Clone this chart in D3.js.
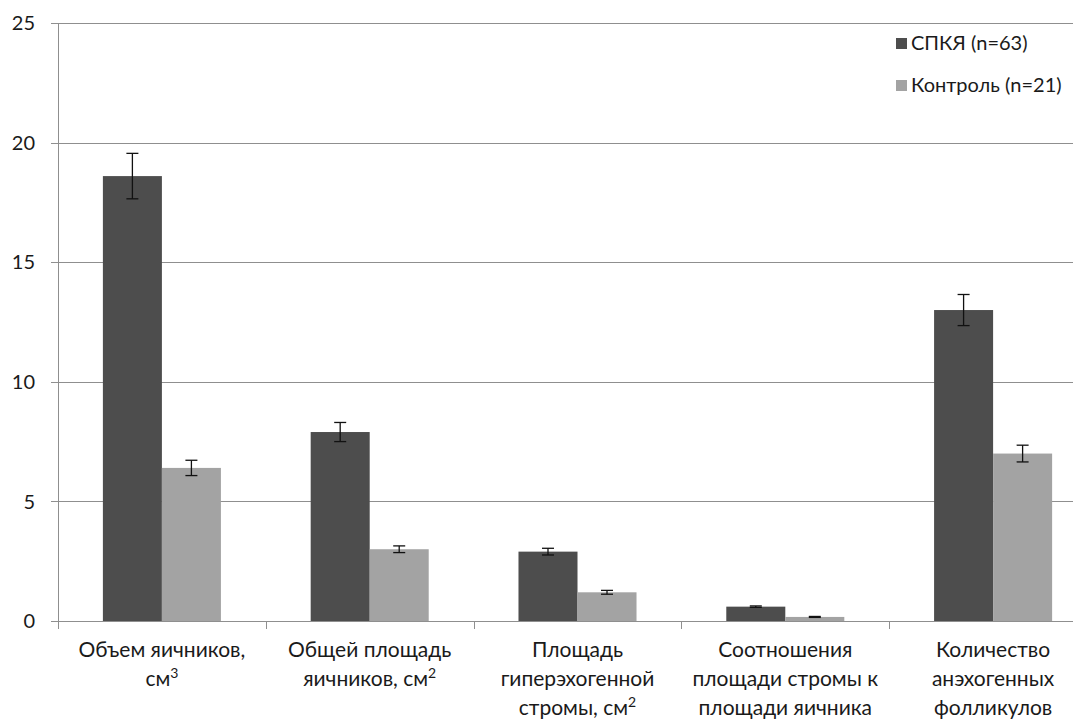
<!DOCTYPE html>
<html>
<head>
<meta charset="utf-8">
<script src="https://cdn.jsdelivr.net/npm/d3@7"></script>
<style>
  html, body { margin: 0; padding: 0; background: #fff; }
  svg { display: block; }
  text { font-family: Lato, "Open Sans", sans-serif; fill: #1a1a1a; }
</style>
</head>
<body>
<svg id="chart" width="1073" height="720"></svg>
<script>
// Ovarian ultrasound parameters: PCOS group vs control group (mean ± error)
const categories = [
  ["Объем яичников,", "см³"],
  ["Общей площадь", "яичников, см²"],
  ["Площадь", "гиперэхогенной", "стромы, см²"],
  ["Соотношения", "площади стромы к", "площади яичника"],
  ["Количество", "анэхогенных", "фолликулов"]
];
const seriesNames = ["СПКЯ (n=63)", "Контроль (n=21)"];
const pcosValues = [18.6, 7.9, 2.9, 0.6, 13.0];
const pcosErrors = [0.95, 0.4, 0.14, 0.03, 0.65];
const controlValues = [6.4, 3.0, 1.2, 0.17, 7.0];
const controlErrors = [0.32, 0.14, 0.08, 0.02, 0.35];
const yTicks = [0, 5, 10, 15, 20, 25];

const colors = ["#4d4d4d", "#a3a3a3"];
const svg = d3.select("#chart");

const plot = { left: 58, right: 1097, top: 23, bottom: 621 };

const x = d3.scaleBand()
  .domain(d3.range(categories.length))
  .range([plot.left, plot.right])
  .paddingInner(0).paddingOuter(0);

const y = d3.scaleLinear().domain([0, 25]).range([plot.bottom, plot.top]);

const barW = x.bandwidth() * 0.284;

// horizontal gridlines
svg.append("g")
  .selectAll("line")
  .data(yTicks)
  .join("line")
  .attr("x1", plot.left - 7)
  .attr("x2", 1073)
  .attr("y1", d => Math.round(y(d)) + 0.5)
  .attr("y2", d => Math.round(y(d)) + 0.5)
  .attr("stroke", "#8f8f8f")
  .attr("stroke-width", 1);

// y tick labels
svg.append("g")
  .selectAll("text")
  .data(yTicks)
  .join("text")
  .attr("x", 35)
  .attr("y", d => y(d))
  .attr("dy", "0.36em")
  .attr("text-anchor", "end")
  .attr("font-size", 20)
  .text(d => d);

// vertical axis line
svg.append("line")
  .attr("x1", plot.left + 0.5).attr("x2", plot.left + 0.5)
  .attr("y1", plot.top).attr("y2", plot.bottom)
  .attr("stroke", "#8f8f8f");

// category tick marks
const catTicks = d3.range(categories.length + 1).map(i => plot.left + i * x.step());
svg.append("g")
  .selectAll("line")
  .data(catTicks)
  .join("line")
  .attr("x1", d => Math.round(d) + 0.5)
  .attr("x2", d => Math.round(d) + 0.5)
  .attr("y1", plot.bottom)
  .attr("y2", plot.bottom + 8)
  .attr("stroke", "#8f8f8f");

const series = [
  { values: pcosValues, errors: pcosErrors, offset: -barW },
  { values: controlValues, errors: controlErrors, offset: 0 }
];

series.forEach((s, si) => {
  const g = svg.append("g");
  g.selectAll("rect")
    .data(s.values)
    .join("rect")
    .attr("x", (d, i) => x(i) + x.bandwidth() / 2 + s.offset)
    .attr("y", d => y(d))
    .attr("width", barW)
    .attr("height", d => y(0) - y(d))
    .attr("fill", colors[si]);

  // error bars
  const eb = g.selectAll("g.err")
    .data(s.values.map((v, i) => ({ v, e: s.errors[i], i })))
    .join("g").attr("class", "err");
  const cx = d => x(d.i) + x.bandwidth() / 2 + s.offset + barW / 2;
  eb.append("line")
    .attr("x1", cx).attr("x2", cx)
    .attr("y1", d => y(d.v + d.e)).attr("y2", d => y(d.v - d.e))
    .attr("stroke", "#111").attr("stroke-width", 1.3);
  [1, -1].forEach(sign => {
    eb.append("line")
      .attr("x1", d => cx(d) - 6).attr("x2", d => cx(d) + 6)
      .attr("y1", d => y(d.v + sign * d.e)).attr("y2", d => y(d.v + sign * d.e))
      .attr("stroke", "#111").attr("stroke-width", 1.3);
  });
});

// category labels; ² and ³ are drawn as raised small digits
const supMap = { "²": "2", "³": "3" };
categories.forEach((lines, i) => {
  lines.forEach((line, j) => {
    const t = svg.append("text")
      .attr("x", x(i) + x.bandwidth() / 2)
      .attr("y", 657 + j * 29)
      .attr("text-anchor", "middle")
      .attr("font-size", 21);
    const parts = line.split(/([²³])/).filter(p => p.length);
    parts.forEach(p => {
      if (supMap[p]) {
        t.append("tspan")
          .attr("font-size", 14)
          .attr("dy", -8)
          .text(supMap[p]);
      } else {
        t.append("tspan").text(p);
      }
    });
  });
});

// legend
const legend = svg.append("g");
seriesNames.forEach((name, i) => {
  const ly = 43 + i * 42;
  legend.append("rect")
    .attr("x", 896).attr("y", ly - 5)
    .attr("width", 11).attr("height", 11)
    .attr("fill", colors[i]);
  legend.append("text")
    .attr("x", 911).attr("y", ly)
    .attr("dy", "0.36em")
    .attr("font-size", 20)
    .text(name);
});
</script>
</body>
</html>
